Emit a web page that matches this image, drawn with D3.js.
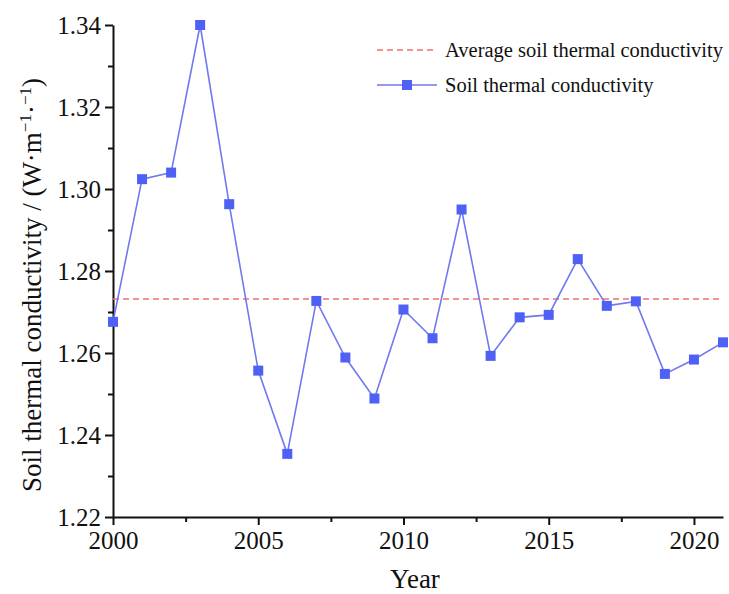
<!DOCTYPE html>
<html>
<head>
<meta charset="utf-8">
<script src="https://cdn.jsdelivr.net/npm/d3@7"></script>
<style>
  body { margin: 0; background: #fff; }
  svg text { font-family: "Liberation Serif", "Times New Roman", serif; }
</style>
</head>
<body>
<script>
const years = d3.range(2000, 2022);
const conductivity = [
  1.2676, 1.3024, 1.3040, 1.3400, 1.2963, 1.2557, 1.2354, 1.2727, 1.2589, 1.2489, 1.2706,
  1.2636, 1.2950, 1.2593, 1.2687, 1.2693, 1.2829, 1.2715, 1.2726, 1.2549, 1.2584, 1.2626
];
const average = 1.2732;
const yTicks = [1.22, 1.24, 1.26, 1.28, 1.30, 1.32, 1.34];
const xTicks = [2000, 2005, 2010, 2015, 2020];
const legendLabels = ["Average soil thermal conductivity", "Soil thermal conductivity"];

const width = 729, height = 594;
const margin = { top: 25, right: 6, bottom: 77, left: 113 };

const svg = d3.select("body").append("svg")
  .attr("width", width)
  .attr("height", height);

const x = d3.scaleLinear()
  .domain([2000, 2021])
  .range([margin.left, width - margin.right]);

const y = d3.scaleLinear()
  .domain([1.22, 1.34])
  .range([height - margin.bottom, margin.top]);

const lineColor = "#7079ee";
const markerColor = "#4f60f5";
const avgColor = "#ee6f6f";

// minor ticks
svg.append("g")
  .attr("transform", `translate(0,${y(1.22)})`)
  .call(d3.axisBottom(x).tickValues(d3.range(2002.5, 2021, 5)).tickSize(5).tickFormat(""))
  .call(g => g.select(".domain").remove());
svg.append("g")
  .attr("transform", `translate(${x(2000)},0)`)
  .call(d3.axisLeft(y).tickValues(d3.range(1.23, 1.34, 0.02)).tickSize(5).tickFormat(""))
  .call(g => g.select(".domain").remove());

// major axes
svg.append("g")
  .attr("class", "axis")
  .attr("transform", `translate(0,${y(1.22)})`)
  .call(d3.axisBottom(x).tickValues(xTicks).tickSize(8).tickPadding(6).tickFormat(d3.format("d")).tickSizeOuter(0));
svg.append("g")
  .attr("class", "axis")
  .attr("transform", `translate(${x(2000)},0)`)
  .call(d3.axisLeft(y).tickValues(yTicks).tickSize(8).tickPadding(4).tickFormat(d3.format(".2f")).tickSizeOuter(0));

svg.selectAll(".axis").attr("font-family", "Liberation Serif");
svg.selectAll(".tick text")
  .style("font-size", "25px")
  .style("font-family", "'Liberation Serif', 'Times New Roman', serif")
  .attr("fill", "#111");
svg.selectAll(".domain, .tick line")
  .attr("stroke", "#111")
  .attr("stroke-width", 2);

// axis titles
svg.append("text")
  .attr("x", (x(2000) + x(2021)) / 2 - 3)
  .attr("y", 588)
  .attr("text-anchor", "middle")
  .style("font-size", "27px")
  .attr("fill", "#111")
  .text("Year");

const yTitle = svg.append("text")
  .attr("transform", "translate(41,285) rotate(-90)")
  .attr("text-anchor", "middle")
  .style("font-size", "27px")
  .attr("fill", "#111");
yTitle.append("tspan").text("Soil thermal conductivity / (W·m");
yTitle.append("tspan").style("font-size", "17px").attr("dy", -10).text("−1");
yTitle.append("tspan").attr("dy", 10).text("·");
yTitle.append("tspan").style("font-size", "17px").attr("dy", -10).text("−1");
yTitle.append("tspan").attr("dy", 10).text(")");

// average line
svg.append("line")
  .attr("x1", x(2000))
  .attr("x2", x(2021))
  .attr("y1", y(average))
  .attr("y2", y(average))
  .attr("stroke", avgColor)
  .attr("stroke-width", 1.5)
  .attr("stroke-dasharray", "6,4");

// series line
const data = years.map((yr, i) => ({ year: yr, value: conductivity[i] }));
svg.append("path")
  .datum(data)
  .attr("fill", "none")
  .attr("stroke", lineColor)
  .attr("stroke-width", 1.6)
  .attr("d", d3.line().x(d => x(d.year)).y(d => y(d.value)));

const s = 10;
svg.append("g")
  .selectAll("rect")
  .data(data)
  .join("rect")
  .attr("x", d => x(d.year) - s / 2)
  .attr("y", d => y(d.value) - s / 2)
  .attr("width", s)
  .attr("height", s)
  .attr("fill", markerColor);

// legend
const legend = svg.append("g").attr("fill", "#111");
legend.append("line")
  .attr("x1", 377).attr("x2", 433).attr("y1", 50).attr("y2", 50)
  .attr("stroke", avgColor).attr("stroke-width", 1.5).attr("stroke-dasharray", "6,4");
legend.append("line")
  .attr("x1", 377).attr("x2", 437).attr("y1", 85).attr("y2", 85)
  .attr("stroke", lineColor).attr("stroke-width", 1.6);
legend.append("rect")
  .attr("x", 407 - s / 2).attr("y", 85 - s / 2).attr("width", s).attr("height", s)
  .attr("fill", markerColor);
legend.selectAll("text")
  .data(legendLabels)
  .join("text")
  .attr("x", 445)
  .attr("y", (d, i) => 50 + i * 35)
  .attr("dy", "0.33em")
  .style("font-size", "20.5px")
  .text(d => d);
</script>
</body>
</html>
